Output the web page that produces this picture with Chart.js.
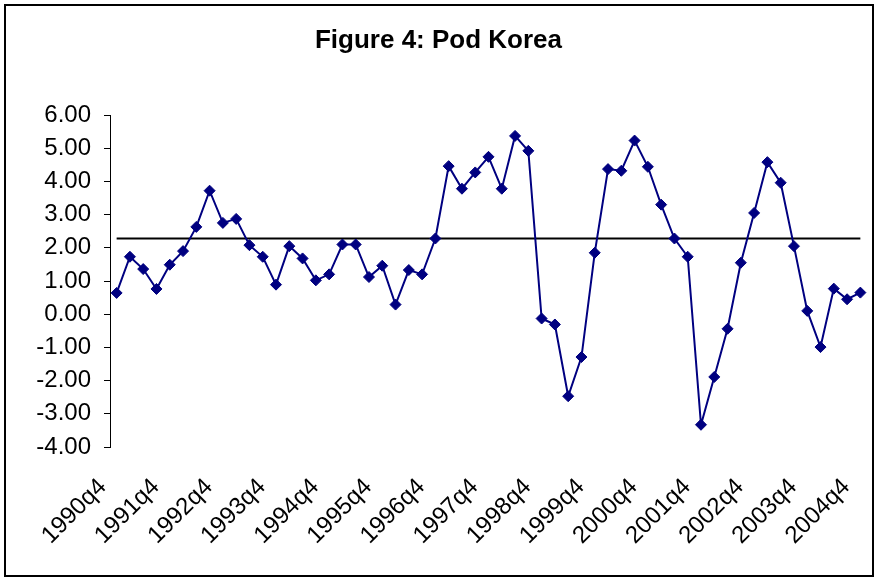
<!DOCTYPE html>
<html>
<head>
<meta charset="utf-8">
<script src="https://cdn.jsdelivr.net/npm/chart.js@4.4.1/dist/chart.umd.min.js"></script>
<style>
  html, body { margin: 0; padding: 0; background: #ffffff; }
  canvas { display: block; }
</style>
</head>
<body>
<canvas id="c" width="875" height="578"></canvas>
<script>
const chartTitle = 'Figure 4: Pod Korea';

const quarters = [
  '1990q4',
  '1991q1','1991q2','1991q3','1991q4',
  '1992q1','1992q2','1992q3','1992q4',
  '1993q1','1993q2','1993q3','1993q4',
  '1994q1','1994q2','1994q3','1994q4',
  '1995q1','1995q2','1995q3','1995q4',
  '1996q1','1996q2','1996q3','1996q4',
  '1997q1','1997q2','1997q3','1997q4',
  '1998q1','1998q2','1998q3','1998q4',
  '1999q1','1999q2','1999q3','1999q4',
  '2000q1','2000q2','2000q3','2000q4',
  '2001q1','2001q2','2001q3','2001q4',
  '2002q1','2002q2','2002q3','2002q4',
  '2003q1','2003q2','2003q3','2003q4',
  '2004q1','2004q2','2004q3','2004q4'
];

const shownTickLabels = [
  '1990q4','1991q4','1992q4','1993q4','1994q4','1995q4','1996q4','1997q4',
  '1998q4','1999q4','2000q4','2001q4','2002q4','2003q4','2004q4'
];

const podKorea = [
  0.64,
  1.73, 1.36, 0.76, 1.49,
  1.90, 2.63, 3.72, 2.75,
  2.87, 2.08, 1.73, 0.89,
  2.05, 1.68, 1.02, 1.20,
  2.10, 2.10, 1.12, 1.46,
  0.29, 1.33, 1.20, 2.28,
  4.46, 3.78, 4.27, 4.74,
  3.78, 5.37, 4.92, -0.13,
  -0.31, -2.47, -1.29, 1.85,
  4.37, 4.32, 5.23, 4.44,
  3.30, 2.28, 1.73, -3.33,
  -1.89, -0.44, 1.55, 3.05,
  4.58, 3.96, 2.05, 0.10,
  -0.99, 0.77, 0.45, 0.65
];

const meanLevel = 2.28;

const yTicks = [-4, -3, -2, -1, 0, 1, 2, 3, 4, 5, 6];

const frameAndBg = {
  id: 'frameAndBg',
  beforeDraw(chart) {
    const ctx = chart.ctx;
    ctx.save();
    ctx.fillStyle = '#ffffff';
    ctx.fillRect(0, 0, chart.width, chart.height);
    ctx.restore();
  },
  afterDraw(chart) {
    const ctx = chart.ctx;
    ctx.save();
    ctx.strokeStyle = '#000000';
    ctx.lineWidth = 2;
    ctx.strokeRect(5, 5, 868, 571);
    ctx.restore();
  }
};

const fontFam = '"Liberation Sans", Arial, sans-serif';

new Chart(document.getElementById('c'), {
  type: 'line',
  data: {
    labels: quarters,
    datasets: [
      {
        label: 'Pod Korea',
        data: podKorea,
        borderColor: '#000080',
        backgroundColor: '#000080',
        borderWidth: 2,
        pointStyle: 'rectRot',
        pointRadius: 5.5,
        pointBorderWidth: 1,
        pointBackgroundColor: '#000080',
        pointBorderColor: '#000080',
        tension: 0,
        fill: false
      },
      {
        label: 'Mean',
        data: [
          { x: quarters[0], y: meanLevel },
          { x: quarters[quarters.length - 1], y: meanLevel }
        ],
        borderColor: '#000000',
        borderWidth: 2,
        pointRadius: 0,
        tension: 0,
        fill: false
      }
    ]
  },
  options: {
    responsive: false,
    animation: false,
    devicePixelRatio: 1,
    layout: { padding: { left: 10, right: 8, top: 0, bottom: 0 } },
    plugins: {
      legend: { display: false },
      tooltip: { enabled: false },
      title: {
        display: true,
        text: chartTitle,
        color: '#000000',
        font: { family: fontFam, size: 26, weight: 'bold' },
        padding: { top: 25, bottom: 58.8 }
      }
    },
    scales: {
      x: {
        type: 'category',
        offset: true,
        grid: { display: false, drawTicks: false },
        border: { display: false },
        ticks: {
          autoSkip: false,
          minRotation: 45,
          maxRotation: 45,
          padding: 26,
          labelOffset: -14,
          color: '#000000',
          font: { family: fontFam, size: 24 },
          callback: function (value, index) {
            const lab = this.getLabelForValue(value);
            return shownTickLabels.includes(lab) ? lab : '';
          }
        },
        afterFit(scale) {
          scale.height = 131;
          scale.paddingLeft = 0;
          scale.paddingRight = 0;
        }
      },
      y: {
        min: -4,
        max: 6,
        afterBuildTicks(scale) {
          scale.ticks = yTicks.map(v => ({ value: v }));
        },
        grid: {
          display: true,
          drawOnChartArea: false,
          drawTicks: true,
          tickLength: 6,
          color: '#000000',
          lineWidth: 1
        },
        border: { display: true, color: '#000000', width: 1 },
        ticks: {
          padding: 13,
          color: '#000000',
          font: { family: fontFam, size: 24 },
          callback: v => Number(v).toFixed(2)
        },
        afterFit(scale) {
          scale.width = 100;
        }
      }
    }
  },
  plugins: [frameAndBg]
});
</script>
</body>
</html>
